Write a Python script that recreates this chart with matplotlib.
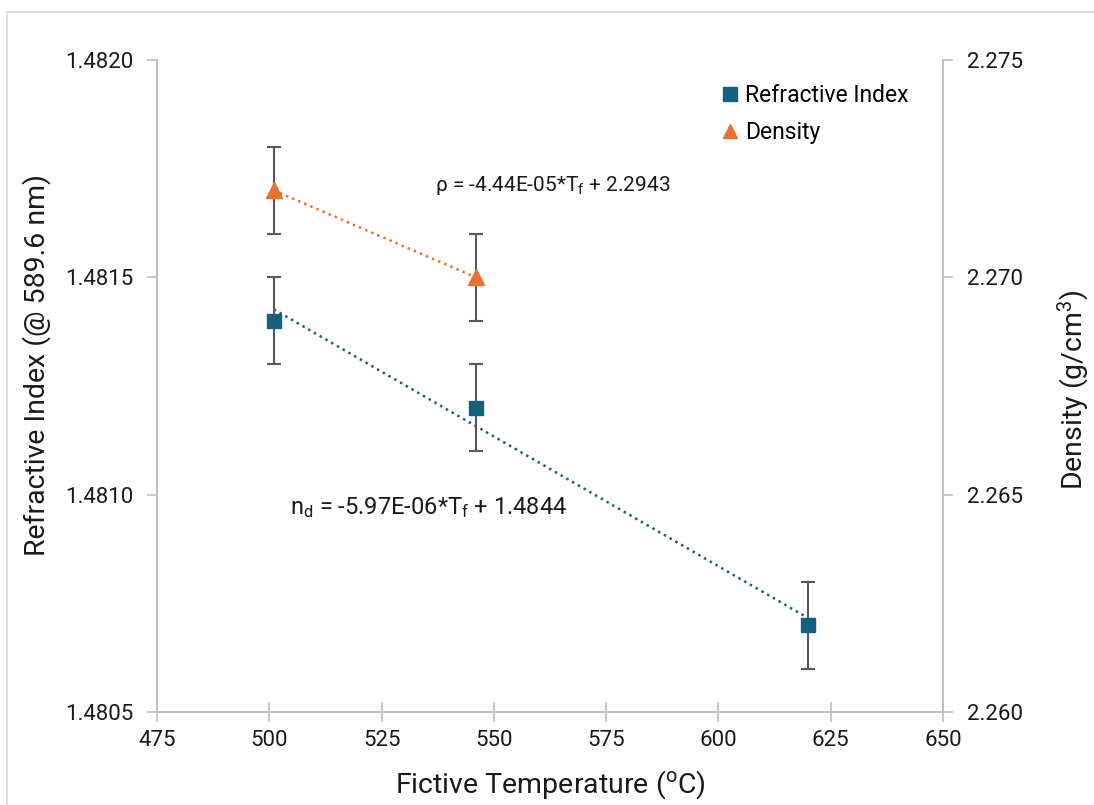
import numpy as np
import matplotlib
matplotlib.use("Agg")
import matplotlib.pyplot as plt
from matplotlib.lines import Line2D
from matplotlib.patches import Rectangle

plt.rcParams['font.family'] = ['Roboto', 'DejaVu Sans']
plt.rcParams['mathtext.default'] = 'regular'

# fictive temperature (C) and measured values
temp_ri = [501, 546, 620]
ri = [1.4814, 1.4812, 1.4807]
ri_err = [0.0001, 0.0001, 0.0001]

temp_rho = [501, 546]
rho = [2.272, 2.270]
rho_err = [0.001, 0.001]

blue = '#156082'
orange = '#E97132'
grid_gray = '#BFBFBF'
err_gray = '#595959'

fig = plt.figure(figsize=(10.94, 8.05), dpi=100)
ax = fig.add_axes([0.1435, 0.1155, 0.7185, 0.81])
ax2 = ax.twinx()

# outer chart border
fig.patches.append(Rectangle((7 / 1094, -0.05), 1.1, 1 - 12 / 805 + 0.05,
                             transform=fig.transFigure, fill=False,
                             edgecolor='#D9D9D9', linewidth=1.2))

# refractive index + linear trendline
ax.errorbar(temp_ri, ri, yerr=ri_err, fmt='none', ecolor=err_gray,
            elinewidth=1.5, capsize=5, capthick=1.5, zorder=3)
ax.plot(temp_ri, ri, 's', color=blue, markersize=10, zorder=4)
k_ri = np.polyfit(temp_ri, ri, 1)
xs = np.array([min(temp_ri), max(temp_ri)])
ax.plot(xs, np.polyval(k_ri, xs), ':', color=blue, linewidth=1.8, zorder=2)

# density + linear trendline
ax2.errorbar(temp_rho, rho, yerr=rho_err, fmt='none', ecolor=err_gray,
             elinewidth=1.5, capsize=5, capthick=1.5, zorder=3)
ax2.plot(temp_rho, rho, '^', color=orange, markersize=11, zorder=4)
k_rho = np.polyfit(temp_rho, rho, 1)
xs2 = np.array([min(temp_rho), max(temp_rho)])
ax2.plot(xs2, np.polyval(k_rho, xs2), ':', color=orange, linewidth=1.8, zorder=2)

ax.set_xlim(475, 650)
ax.set_xticks(np.arange(475, 651, 25))
ax.set_ylim(1.4805, 1.4820)
ax.set_yticks([1.4805, 1.4810, 1.4815, 1.4820])
ax.set_yticklabels(['%.4f' % v for v in ax.get_yticks()])
ax2.set_ylim(2.260, 2.275)
ax2.set_yticks([2.260, 2.265, 2.270, 2.275])
ax2.set_yticklabels(['%.3f' % v for v in ax2.get_yticks()])

for a in (ax, ax2):
    a.spines['top'].set_visible(False)
    for s in ('left', 'right', 'bottom'):
        a.spines[s].set_color(grid_gray)
        a.spines[s].set_linewidth(1.2)
    a.tick_params(axis='y', colors=grid_gray, labelcolor='#1a1a1a',
                  labelsize=16, length=7, width=1.2, pad=10)
ax.tick_params(axis='x', direction='inout', colors=grid_gray,
               labelcolor='#1a1a1a', labelsize=16, length=14, width=1.2, pad=6)

ax.set_xlabel('Fictive Temperature ($^{o}$C)', fontsize=20.5, color='#1a1a1a', labelpad=12)
ax.set_ylabel('Refractive Index (@ 589.6 nm)', fontsize=20.5, color='#1a1a1a')
ax.yaxis.set_label_coords(-0.135, 0.532)
ax2.set_ylabel('Density (g/cm$^{3}$)', fontsize=20.5, color='#1a1a1a')
ax2.yaxis.set_label_coords(1.143, 0.495)

def fmt_eq(k):
    return '%.2E' % k[0], '%.4f' % k[1]

s_rho, b_rho = fmt_eq(k_rho)
s_ri, b_ri = fmt_eq(k_ri)
ax2.text(536.9, 2.27212, 'ρ = %s*T$_{f}$ + %s' % (s_rho, b_rho),
         fontsize=15, color='#1a1a1a', ha='left', va='center')
ax.text(504.6, 1.48097, 'n$_{d}$ = %s*T$_{f}$ + %s' % (s_ri, b_ri),
        fontsize=17, color='#1a1a1a', ha='left', va='center')

handles = [Line2D([], [], marker='s', color=blue, linestyle='none', markersize=10),
           Line2D([], [], marker='^', color=orange, linestyle='none', markersize=10)]
ax2.legend(handles, ['Refractive Index', 'Density'], loc='upper right',
           bbox_to_anchor=(0.982, 0.995), frameon=False, fontsize=16.5,
           handletextpad=0.05, labelspacing=0.6, handlelength=1.2)

fig.savefig('out.png', dpi=100)
